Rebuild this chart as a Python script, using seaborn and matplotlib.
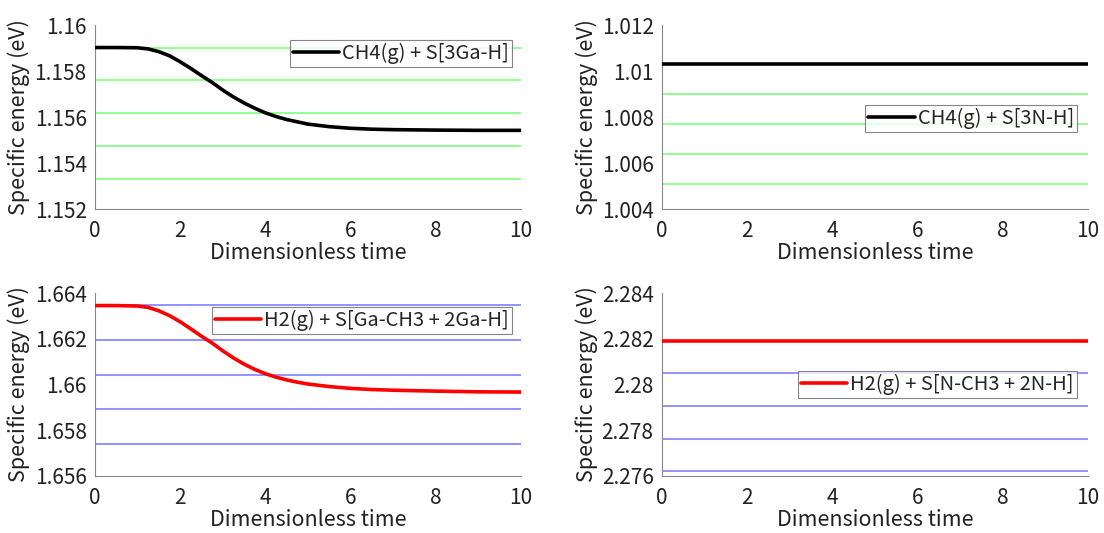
import matplotlib
matplotlib.use("Agg")
import matplotlib.pyplot as plt
import seaborn as sns
import numpy as np
import pandas as pd

# ---------------- data ----------------
t_ga = [0, 0.5, 1.0, 1.25, 1.5, 1.75, 2.0, 2.25, 2.5, 2.75, 3.0, 3.25, 3.5, 3.75,
        4.0, 4.25, 4.5, 4.75, 5.0, 5.5, 6.0, 6.5, 7.0, 8.0, 9.0, 10.0]
e_ch4_ga = [1.15902, 1.15902, 1.15901, 1.15896, 1.15884, 1.15866, 1.15840, 1.15811,
            1.15780, 1.15750, 1.15717, 1.15687, 1.15661, 1.15638, 1.15618, 1.15602,
            1.15589, 1.15579, 1.15569, 1.15558, 1.15551, 1.15547, 1.15545, 1.15543,
            1.15542, 1.15542]
e_h2_ga = [1.66345, 1.66345, 1.66343, 1.66337, 1.66322, 1.66301, 1.66274, 1.66243,
           1.66211, 1.66181, 1.66147, 1.66116, 1.66089, 1.66066, 1.66047, 1.66032,
           1.66020, 1.66010, 1.66002, 1.65991, 1.65983, 1.65978, 1.65975, 1.65971,
           1.65968, 1.65967]

t_n = [0, 10]
e_ch4_n = [1.01031, 1.01031]
e_h2_n = [2.28192, 2.28192]

# reference levels (horizontal lines)
levels_ch4_ga = [1.15901, 1.15759, 1.15616, 1.15473, 1.15330]
levels_ch4_n = [1.01029, 1.00899, 1.00768, 1.00638, 1.00507]
levels_h2_ga = [1.66346, 1.66194, 1.66043, 1.65891, 1.65739]
levels_h2_n = [2.28192, 2.28049, 2.27907, 2.27763, 2.27621]

labels = ["CH4(g) + S[3Ga-H]", "CH4(g) + S[3N-H]",
          "H2(g) + S[Ga-CH3 + 2Ga-H]", "H2(g) + S[N-CH3 + 2N-H]"]
ylims = [(1.152, 1.160), (1.004, 1.012), (1.656, 1.664), (2.276, 2.284)]
yticks = [[1.152, 1.154, 1.156, 1.158, 1.16],
          [1.004, 1.006, 1.008, 1.01, 1.012],
          [1.656, 1.658, 1.66, 1.662, 1.664],
          [2.276, 2.278, 2.28, 2.282, 2.284]]
ytick_labels = [["1.152", "1.154", "1.156", "1.158", "1.16"],
                ["1.004", "1.006", "1.008", "1.01", "1.012"],
                ["1.656", "1.658", "1.66", "1.662", "1.664"],
                ["2.276", "2.278", "2.28", "2.282", "2.284"]]
xticks = [0, 2, 4, 6, 8, 10]

# ---------------- style ----------------
sns.set_theme(style="white")
plt.rcParams['font.family'] = ['Noto Sans CJK JP', 'DejaVu Sans']

fig = plt.figure(figsize=(11.04, 5.33), dpi=100)
W, H = 1104, 533
boxes = [(95, 25, 521, 209), (662, 25, 1088, 209),
         (95, 293, 521, 476), (662, 293, 1088, 476)]
axes = [fig.add_axes([l / W, 1 - b / H, (r - l) / W, (b - t) / H]) for (l, t, r, b) in boxes]

series = [(t_ga, e_ch4_ga, levels_ch4_ga, "black", (0.5, 1.0, 0.5), "upper right", (0.979, 0.918)),
          (t_n, e_ch4_n, levels_ch4_n, "black", (0.5, 1.0, 0.5), "center right", (0.974, 0.49)),
          (t_ga, e_h2_ga, levels_h2_ga, "red", (0.5, 0.5, 1.0), "upper right", (0.979, 0.924)),
          (t_n, e_h2_n, levels_h2_n, "red", (0.5, 0.5, 1.0), "center right", (0.974, 0.50))]

for i, ax in enumerate(axes):
    tt, ee, lv, col, lcol, loc, anchor = series[i]
    for v in lv:
        ax.axhline(v, color=lcol, lw=1.2, zorder=1)
    df = pd.DataFrame({"t": tt, "E": ee})
    sns.lineplot(data=df, x="t", y="E", ax=ax, color=col, lw=2.6, label=labels[i], zorder=3)
    ax.set_xlim(0, 10)
    ax.set_ylim(*ylims[i])
    ax.set_xticks(xticks)
    ax.set_xticklabels([str(x) for x in xticks])
    ax.set_yticks(yticks[i])
    ax.set_yticklabels(ytick_labels[i])
    ax.set_xlabel("Dimensionless time", fontsize=15.5, color="#222222", labelpad=0)
    ax.set_ylabel("Specific energy (eV)", fontsize=15.5, color="#222222", labelpad=3)
    ax.tick_params(axis="x", pad=8)
    ax.tick_params(axis="y", pad=6)
    ax.tick_params(axis="both", direction="in", length=4, width=0.8, colors="#888888",
                   labelcolor="#222222", labelsize=15)
    for s in ["top", "right"]:
        ax.spines[s].set_visible(False)
    for s in ["left", "bottom"]:
        ax.spines[s].set_color("#888888")
        ax.spines[s].set_linewidth(0.8)
    leg = ax.legend(loc=loc, bbox_to_anchor=anchor, fontsize=14.5, frameon=True,
                    fancybox=False, handlelength=2.3, handletextpad=0.15,
                    borderpad=0.15, borderaxespad=0.0)
    leg.get_frame().set_edgecolor("#666666")
    leg.get_frame().set_linewidth(0.8)

fig.savefig("out.png", dpi=100)
